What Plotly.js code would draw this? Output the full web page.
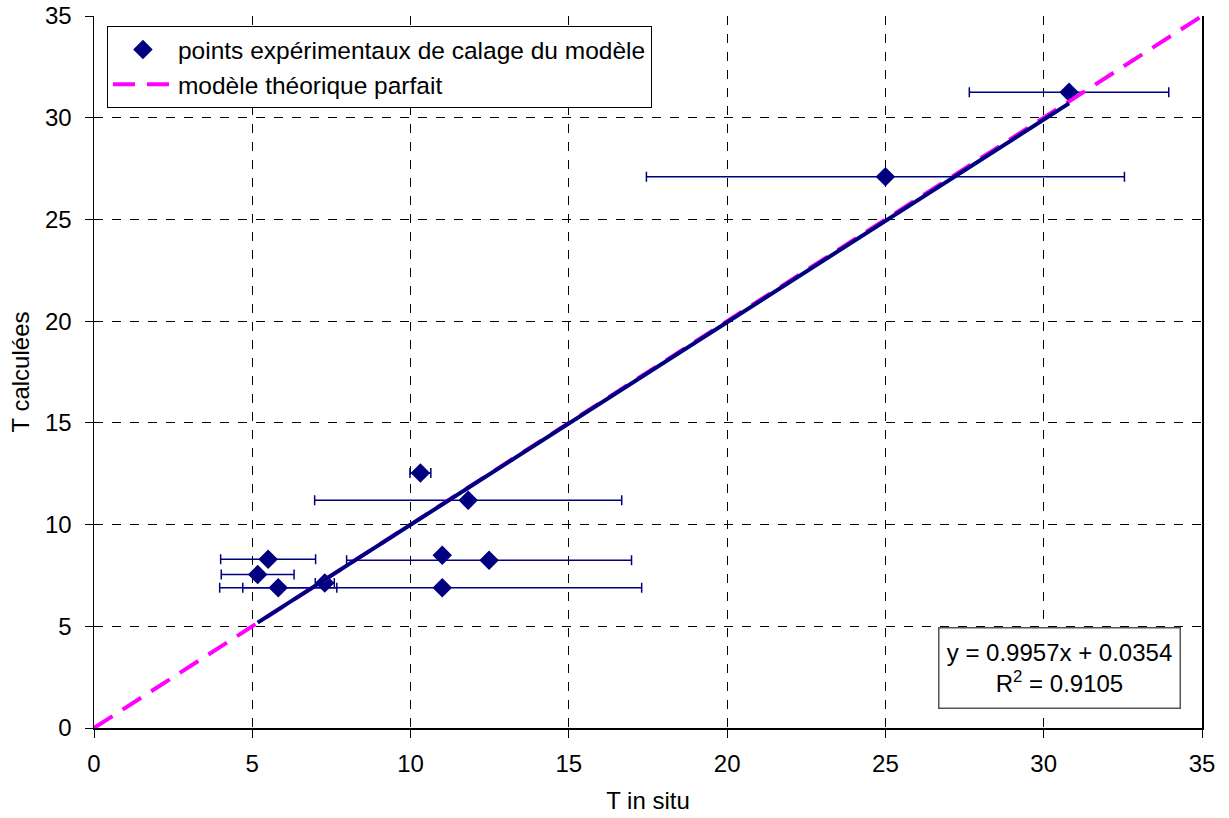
<!DOCTYPE html>
<html>
<head>
<meta charset="utf-8">
<script src="https://cdn.plot.ly/plotly-3.0.1.min.js"></script>
<style>
html,body{margin:0;padding:0;background:#fff;}
#chart{width:1229px;height:818px;}
</style>
</head>
<body>
<div id="chart"></div>
<script>
// Experimental calibration points
const tInSitu = [5.17, 5.50, 5.82, 7.29, 10.31, 11.0, 11.0, 11.82, 12.48, 25.0, 30.8];
const tCalc   = [7.54, 8.29, 6.90, 7.13, 12.54, 8.49, 6.90, 11.19, 8.24, 27.1, 31.25];
const errX    = [1.15, 1.5, 1.85, 0.3, 0.33, 0, 6.3, 4.85, 4.5, 7.55, 3.15];

// Perfect theoretical model y = x
const perfectX = [0, 35];
const perfectY = [0, 35];

// Linear trendline coefficients (as displayed)
const slope = 0.9957;
const intercept = 0.0354;
const r2 = 0.9105;

const xTicks = [0, 5, 10, 15, 20, 25, 30, 35];
const yTicks = [0, 5, 10, 15, 20, 25, 30, 35];

const legendNames = ["points expérimentaux de calage du modèle", "modèle théorique parfait"];
const xTitle = "T in situ";
const yTitle = "T calculées";

const navy = "#000080";
const magenta = "#FF00FF";
const font = "Liberation Sans, Arial, sans-serif";

const xMin = Math.min(...tInSitu), xMax = Math.max(...tInSitu);
const trendX = [xMin, xMax];
const trendY = trendX.map(v => slope * v + intercept);

const traces = [
  {
    type: "scatter", mode: "markers",
    x: tInSitu, y: tCalc,
    name: legendNames[0],
    marker: {symbol: "diamond", size: 15, color: navy},
    error_x: {type: "data", array: errX, visible: true, color: navy, thickness: 1.5, width: 5},
    cliponaxis: false
  },
  {
    type: "scatter", mode: "lines",
    x: perfectX, y: perfectY,
    name: legendNames[1],
    line: {color: magenta, width: 4, dash: "22px,12px"}
  },
  {
    type: "scatter", mode: "lines",
    x: trendX, y: trendY,
    showlegend: false, hoverinfo: "skip",
    line: {color: navy, width: 4}
  }
];

const axisCommon = {
  range: [0, 35],
  tickmode: "array",
  showgrid: true,
  gridcolor: "#000",
  gridwidth: 1,
  griddash: "dash",
  zeroline: false,
  showline: true,
  linecolor: "#000",
  linewidth: 1.5,
  ticks: "outside",
  ticklen: 8,
  tickcolor: "#000",
  tickfont: {family: font, size: 24, color: "#000"}
};

const layout = {
  width: 1229, height: 818,
  paper_bgcolor: "#fff", plot_bgcolor: "#fff",
  margin: {l: 94, r: 27, t: 16, b: 90},
  font: {family: font, color: "#000"},
  xaxis: Object.assign({}, axisCommon, {
    tickvals: xTicks, ticktext: xTicks.map(String),
    ticklabelstandoff: 6,
    title: {text: xTitle, font: {family: font, size: 24, color: "#000"}, standoff: 16}
  }),
  yaxis: Object.assign({}, axisCommon, {
    tickvals: yTicks, ticktext: yTicks.map(String),
    mirror: true,
    ticklabelstandoff: 8,
    title: {text: yTitle, font: {family: font, size: 24, color: "#000"}, standoff: 8}
  }),
  showlegend: true,
  legend: {
    x: 0.0117, y: 0.986, xanchor: "left", yanchor: "top",
    bgcolor: "#fff", bordercolor: "#000", borderwidth: 1,
    font: {family: font, size: 24.5, color: "#000"},
    itemwidth: 60,
    tracegroupgap: 0
  },
  annotations: [{
    xref: "x", yref: "y", x: 30.5, y: 2.96,
    text: "y = " + slope.toFixed(4) + "x + " + intercept.toFixed(4) + "<br>R<sup>2</sup> = " + r2.toFixed(4),
    showarrow: false,
    font: {family: font, size: 24, color: "#000"},
    align: "center",
    width: 236, height: 75,
    bgcolor: "#fff", bordercolor: "#555", borderwidth: 1.5, borderpad: 2
  }]
};

Plotly.newPlot("chart", traces, layout, {displayModeBar: false, staticPlot: true});
</script>
</body>
</html>
